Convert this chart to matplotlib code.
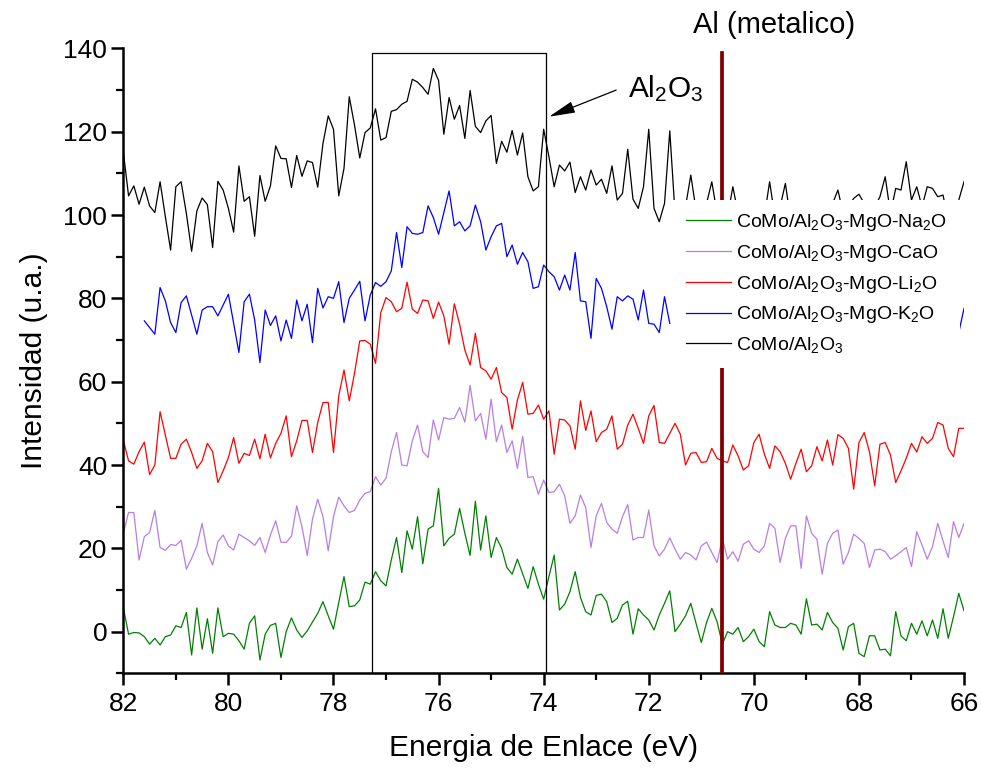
# XPS Al 2p region: spectra of CoMo catalysts on Al2O3-MgO with alkaline promoters
import numpy as np
import matplotlib
matplotlib.use("Agg")
import matplotlib.pyplot as plt
from matplotlib.patches import Rectangle
from matplotlib.ticker import MultipleLocator

plt.rcParams['font.family'] = ['Liberation Sans', 'DejaVu Sans']
plt.rcParams['mathtext.fontset'] = 'custom'
plt.rcParams['mathtext.rm'] = 'Liberation Sans'
plt.rcParams['mathtext.it'] = 'Liberation Sans:italic'
plt.rcParams['mathtext.bf'] = 'Liberation Sans:bold'

# binding energy grid, 82 -> 66 eV in 0.1 eV steps
energy = np.round(np.linspace(82, 66, 161), 1)

# intensities (u.a.)
como = [115.2, 104.6, 107.0, 102.6, 106.7, 102.2, 100.6, 108.0, 99.6, 91.6,
        106.8, 108.0, 100.4, 91.3, 101.0, 104.1, 102.5, 92.2, 108.1, 106.0,
        101.6, 95.9, 111.8, 103.3, 104.4, 94.9, 109.5, 103.3, 107.0, 116.6,
        113.6, 113.5, 106.6, 114.3, 109.3, 113.0, 112.6, 106.7, 117.2, 123.8,
        120.6, 104.6, 111.2, 128.4, 121.6, 113.7, 119.8, 120.9, 125.5, 118.0,
        118.6, 124.9, 125.3, 126.6, 127.3, 132.6, 131.9, 130.6, 129.0, 135.2,
        132.3, 119.4, 128.2, 123.0, 126.3, 118.4, 129.9, 121.3, 119.8, 122.6,
        123.9, 112.4, 117.7, 115.1, 120.3, 114.4, 119.7, 109.2, 105.8, 106.8,
        120.6, 114.0, 106.8, 112.0, 110.6, 112.7, 105.4, 109.2, 106.0, 110.8,
        107.2, 108.6, 105.2, 111.8, 103.6, 105.2, 115.8, 103.8, 101.6, 106.8,
        120.6, 101.6, 98.4, 102.8, 120.2, 100.4, 98.8, 102.0, 109.6, 101.2,
        98.0, 102.8, 108.0, 100.4, 102.0, 99.6, 106.8, 100.4, 97.2, 101.2,
        98.8, 102.0, 99.6, 108.0, 99.6, 102.0, 107.6, 98.8, 100.4, 97.2,
        102.0, 99.6, 101.2, 98.0, 100.4, 102.8, 106.0, 100.4, 102.0, 104.0,
        105.0, 102.8, 99.6, 102.0, 104.4, 109.2, 100.4, 106.4, 106.0, 112.8,
        103.6, 106.8, 102.0, 106.8, 106.4, 104.4, 104.8, 98.8, 101.2, 103.6, 108.0]

# K2O spectrum: starts at 81.6 eV, middle part is hidden behind the legend
k2o = ([np.nan] * 4 +
       [74.6, 73.0, 71.4, 82.6, 79.4, 74.2, 71.8, 79.0, 80.6, 76.0,
        71.4, 77.2, 78.0, 78.0, 75.8, 78.4, 81.0, 74.0, 67.0, 79.2,
        81.0, 74.8, 64.6, 77.2, 73.5, 75.8, 69.8, 74.8, 70.4, 79.6,
        74.6, 78.6, 69.4, 82.4, 77.7, 80.4, 80.0, 84.0, 74.2, 80.0,
        82.0, 84.1, 74.6, 80.8, 83.8, 82.9, 84.0, 86.6, 95.8, 87.4,
        97.2, 95.6, 95.4, 95.8, 102.2, 99.4, 95.4, 100.6, 105.8, 97.4,
        98.4, 96.2, 97.4, 102.4, 98.4, 91.6, 94.8, 97.4, 98.0, 90.0,
        92.8, 88.2, 91.0, 88.8, 82.4, 82.8, 88.0,
        86.4, 85.2, 82.0, 85.6, 82.0, 91.0, 79.4, 79.2, 70.4, 84.8,
        82.4, 78.0, 72.6, 80.4, 79.4, 80.6, 79.8, 74.8, 82.0, 74.0,
        73.8, 71.8, 80.4, 74.0] +
       [np.nan] * 52 +
       [84.0, 81.2, 71.8, 77.6])

li2o = [46.0, 41.0, 40.2, 43.2, 45.5, 37.7, 40.0, 52.8, 47.2, 41.6,
        41.6, 45.0, 46.2, 43.0, 39.2, 41.0, 45.2, 43.2, 35.8, 38.6,
        41.8, 46.6, 40.4, 42.8, 42.3, 46.2, 41.5, 47.4, 41.7, 45.2,
        47.6, 51.8, 42.0, 45.8, 50.7, 50.7, 43.0, 50.2, 55.0, 55.0,
        43.0, 56.6, 62.8, 55.4, 62.0, 69.8, 69.9, 69.0, 64.4, 76.6,
        80.2, 79.2, 76.8, 77.6, 83.9, 77.4, 76.4, 79.6, 79.4, 75.2,
        79.1, 75.8, 69.0, 78.7, 73.8, 67.6, 64.0, 71.6, 63.4, 62.6,
        60.6, 63.4, 57.4, 56.2, 48.6, 55.6, 59.8, 52.2, 52.4, 54.4,
        51.0, 53.0, 42.6, 51.0, 50.8, 49.4, 43.8, 55.4, 48.3, 53.0,
        45.6, 47.8, 48.6, 51.8, 43.8, 45.0, 49.6, 52.2, 48.8, 45.2,
        51.8, 54.3, 45.4, 45.2, 47.6, 50.0, 47.4, 40.0, 42.8, 43.0,
        40.6, 40.8, 44.0, 41.6, 41.0, 40.6, 44.8, 42.2, 38.8, 39.8,
        45.4, 47.4, 42.6, 39.2, 44.6, 43.2, 40.4, 36.6, 40.4, 43.8,
        38.4, 39.8, 44.4, 41.0, 46.0, 40.0, 47.3, 46.4, 44.0, 34.2,
        45.4, 47.8, 43.2, 35.0, 45.0, 45.4, 42.4, 35.8, 38.6, 41.6,
        45.2, 43.1, 46.8, 45.2, 46.4, 50.2, 49.6, 44.0, 42.0, 48.8, 48.8]

cao = [23.6, 28.6, 28.6, 17.2, 22.8, 23.8, 29.1, 20.2, 19.5, 20.9,
       20.7, 21.9, 15.0, 17.6, 20.6, 26.0, 19.0, 16.0, 21.6, 23.2,
       20.6, 19.6, 23.4, 22.6, 21.8, 20.7, 22.6, 19.0, 23.2, 26.6,
       21.5, 21.4, 22.9, 30.2, 25.2, 18.3, 27.0, 31.8, 27.6, 19.4,
       27.6, 32.3, 30.2, 28.6, 29.1, 31.6, 33.2, 33.6, 37.2, 35.2,
       36.8, 43.2, 47.8, 40.0, 39.8, 45.8, 49.6, 43.2, 41.8, 50.8,
       46.0, 51.4, 51.0, 51.2, 53.8, 50.3, 59.1, 50.6, 52.4, 46.2,
       55.8, 45.6, 49.6, 43.0, 45.8, 39.2, 46.9, 37.0, 37.2, 33.0,
       36.4, 33.4, 33.6, 35.4, 32.6, 26.0, 27.8, 32.8, 29.8, 20.2,
       27.8, 30.8, 26.2, 24.6, 23.6, 27.6, 30.5, 22.0, 22.6, 22.6,
       29.2, 20.6, 18.2, 19.8, 22.5, 19.8, 17.4, 19.0, 18.4, 17.2,
       20.6, 21.5, 19.0, 16.6, 22.4, 17.4, 19.2, 16.9, 21.0, 21.8,
       19.8, 19.0, 20.6, 26.0, 24.8, 16.6, 22.4, 25.4, 25.4, 15.2,
       27.8, 23.6, 22.2, 13.8, 21.2, 23.6, 24.4, 16.2, 19.0, 23.4,
       22.4, 21.2, 15.4, 19.6, 19.8, 19.2, 17.4, 18.2, 19.2, 20.2,
       15.6, 24.0, 20.8, 17.4, 20.4, 26.0, 21.8, 17.8, 26.4, 22.6, 26.0]

na2o = [5.8, -0.6, -0.2, -0.3, -1.2, -3.0, -1.6, -3.2, -1.2, -0.8,
        1.4, 1.0, 4.6, -5.6, 5.7, -4.2, 3.1, -5.2, 5.7, -1.2,
        -0.4, -0.6, -2.2, -4.2, 2.0, 3.8, -6.8, -0.6, 1.5, 2.0,
        -6.2, 0.0, 3.3, 0.4, -1.4, 0.2, 2.3, 4.4, 7.2, 3.8,
        0.6, 7.0, 13.2, 6.0, 6.2, 7.6, 11.9, 11.4, 14.4, 12.2,
        11.0, 17.2, 22.6, 14.2, 24.2, 19.8, 27.6, 16.3, 24.6, 25.4,
        34.4, 20.6, 22.4, 23.4, 29.6, 23.6, 18.3, 31.3, 19.6, 27.8,
        17.8, 22.6, 20.0, 15.4, 13.8, 17.4, 13.9, 10.4, 15.6, 11.4,
        7.8, 13.2, 18.4, 5.2, 6.6, 9.6, 14.4, 8.2, 4.8, 4.0,
        8.7, 9.0, 7.2, 2.2, 3.2, 6.4, 7.3, -0.6, 5.5, 4.0,
        2.8, 0.4, 4.0, 6.8, 9.8, 0.0, 1.8, 3.8, 6.8, 2.0,
        -2.6, 2.2, 5.6, 2.4, -3.0, 0.0, -0.6, 1.0, -2.4, -1.2,
        0.6, -2.4, -3.6, 4.8, 1.6, 1.0, 1.0, 2.0, 1.6, -0.6,
        7.9, 1.6, 1.8, 0.4, 4.6, 2.2, 0.8, -4.4, 1.2, 2.0,
        -5.2, -6.0, -1.0, -1.0, -4.4, -4.2, -5.8, 4.8, -1.0, -2.2,
        2.0, -0.6, 2.6, -1.0, 2.8, -1.6, 5.5, -1.6, 3.6, 9.2, 5.0]

labels = ['CoMo/Al$_2$O$_3$-MgO-Na$_2$O', 'CoMo/Al$_2$O$_3$-MgO-CaO',
          'CoMo/Al$_2$O$_3$-MgO-Li$_2$O', 'CoMo/Al$_2$O$_3$-MgO-K$_2$O',
          'CoMo/Al$_2$O$_3$']
colors = ['#008000', '#b77ee6', '#ff0000', '#0000ff', '#000000']
series = [na2o, cao, li2o, k2o, como]

al_metal = 70.6          # Al metallic reference position (eV)
box_range = (73.95, 77.27)  # Al2O3 region

fig = plt.figure(figsize=(9.81, 7.71), dpi=100)
ax = fig.add_axes([0.1257, 0.1267, 0.857, 0.8105])

lines = []
for y, c, lab in zip(series, colors, labels):
    ln, = ax.plot(energy, y, color=c, lw=0.9, label=lab)
    lines.append(ln)

# Al metallic marker
ax.plot([al_metal, al_metal], [-10, 138.8], color='#800000', lw=2.7, zorder=3)
ax.text(69.61, 143.8, 'Al (metalico)', fontsize=21, ha='center', va='baseline')

# Al2O3 region box with arrow
ax.add_patch(Rectangle((box_range[0], -10), box_range[1] - box_range[0], 148.8,
                       fill=False, ec='black', lw=0.9, zorder=3, clip_on=False))
ax.annotate('', xy=(73.9, 123.6), xytext=(72.62, 130.0),
            arrowprops=dict(arrowstyle='-|>,head_length=0.9,head_width=0.2',
                            color='black', lw=0.9, shrinkA=0, shrinkB=0,
                            mutation_scale=18))
ax.text(72.4, 128.2, 'Al$_2$O$_3$', fontsize=21.5, ha='left', va='baseline')

ax.set_xlim(82, 66)
ax.set_ylim(-10, 140)
ax.set_xticks(np.arange(66, 83, 2))
ax.set_yticks(np.arange(0, 141, 20))
ax.xaxis.set_minor_locator(MultipleLocator(1))
ax.yaxis.set_minor_locator(MultipleLocator(10))

for s in ['top', 'right']:
    ax.spines[s].set_visible(False)
for s in ['left', 'bottom']:
    ax.spines[s].set_linewidth(1.8)

ax.tick_params(which='major', direction='out', length=8.5, width=1.8, labelsize=19)
ax.tick_params(which='minor', direction='out', length=4.8, width=1.6)
ax.tick_params(axis='x', which='major', pad=5)
ax.tick_params(axis='y', which='major', pad=3)

ax.set_xlabel('Energia de Enlace (eV)', fontsize=21.5, labelpad=13)
ax.set_ylabel('Intensidad (u.a.)', fontsize=21.5, labelpad=11)

leg = ax.legend(handles=lines, loc='upper left', bbox_to_anchor=(0.654, 0.758),
                borderaxespad=0, frameon=True, facecolor='white', edgecolor='none',
                framealpha=1, fancybox=False, fontsize=14, handlelength=2.3,
                handletextpad=0.3, labelspacing=0.5, borderpad=0.65)
leg.set_zorder(5)

fig.savefig('out.png', dpi=100)
